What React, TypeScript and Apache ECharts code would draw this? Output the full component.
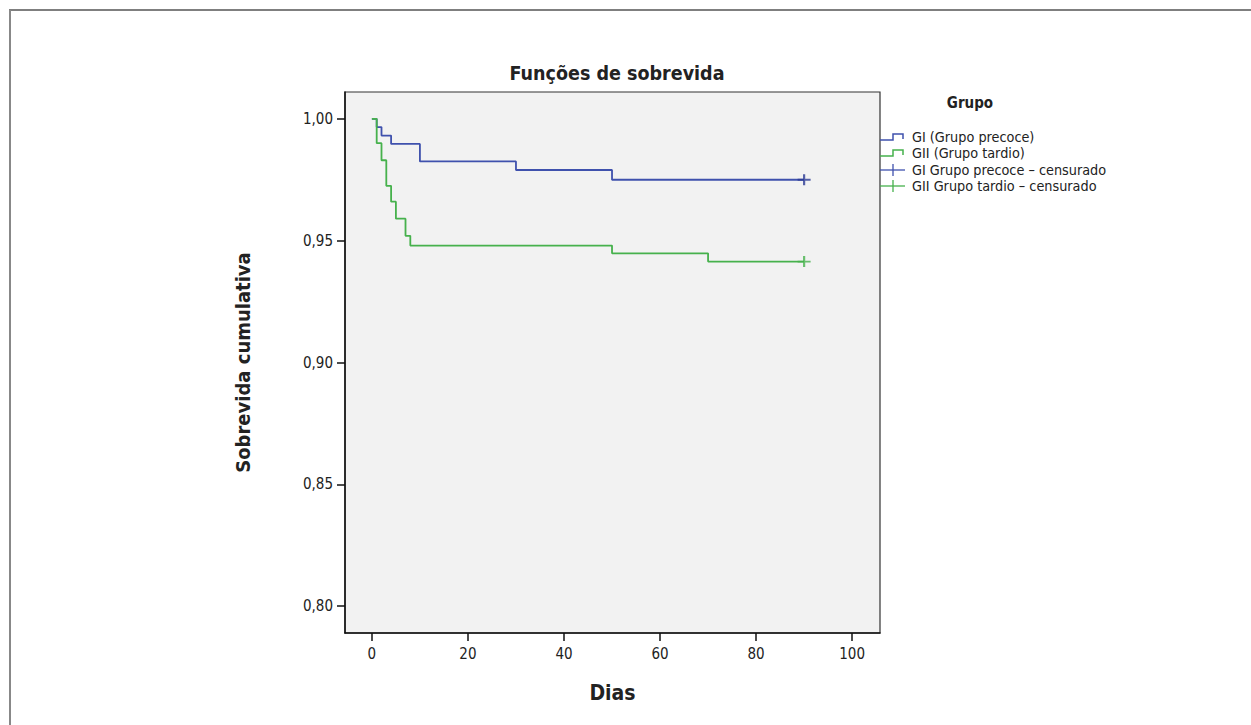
import React, { useEffect, useRef } from "react";
import * as echarts from "echarts";

const xTicks = [0, 20, 40, 60, 80, 100];
const yTicks = [0.8, 0.85, 0.9, 0.95, 1.0];

const groupIDays = [0, 1, 2, 4, 10, 30, 50, 90];
const groupISurv = [1.0, 0.9966, 0.9931, 0.9897, 0.9825, 0.979, 0.975, 0.975];

const groupIIDays = [0, 1, 2, 3, 4, 5, 7, 8, 50, 70, 90];
const groupIISurv = [1.0, 0.99, 0.983, 0.9725, 0.966, 0.959, 0.952, 0.948, 0.9448, 0.9414, 0.9414];

const censorDays = [90];
const censorI = [0.975];
const censorII = [0.9414];

const legendLabels = [
  "GI (Grupo precoce)",
  "GII (Grupo tardio)",
  "GI Grupo precoce – censurado",
  "GII Grupo tardio – censurado",
];

const BLUE = "#3f51ad";
const BLUE_DARK = "#2a3a94";
const GREEN = "#46b14c";
const FONT = "'DejaVu Sans Condensed', 'Liberation Sans', sans-serif";

export default function App() {
  const ref = useRef<HTMLDivElement>(null);
  useEffect(() => {
    if (!ref.current) return;
    const chart = echarts.init(ref.current, null, { renderer: "svg" });
    const plus = "path://M0,-5L0,5M-6,0L6,0";
    const lx = 880;
    const legendY = [137, 153, 170, 186];
    const stepIcon = (y: number, c: string) => ({
      type: "polyline",
      shape: { points: [[lx, y + 3], [lx + 13, y + 3], [lx + 13, y - 3], [lx + 23, y - 3], [lx + 23, y + 2]] },
      style: { stroke: c, lineWidth: 1.5, fill: "none" },
    });
    const censIcon = (y: number, c: string) => ({
      type: "group",
      children: [
        { type: "line", shape: { x1: lx, y1: y, x2: lx + 25, y2: y }, style: { stroke: c, lineWidth: 1.3 } },
        { type: "line", shape: { x1: lx + 13, y1: y - 6, x2: lx + 13, y2: y + 6 }, style: { stroke: c, lineWidth: 1.3 } },
      ],
    });
    chart.setOption({
      animation: false,
      title: {
        text: "Funções de sobrevida",
        left: 612,
        top: 58,
        textAlign: "center",
        textStyle: { fontFamily: FONT, fontSize: 19.5, fontWeight: "bold", color: "#222" },
      },
      grid: {
        left: 345,
        right: 1251 - 880,
        top: 92,
        bottom: 725 - 633,
        show: true,
        backgroundColor: "#f2f2f2",
        borderColor: "#333",
        borderWidth: 1.2,
      },
      xAxis: {
        type: "value",
        min: -5.6,
        max: 105.8,
        name: "Dias",
        nameLocation: "middle",
        nameGap: 49,
        nameTextStyle: { fontFamily: FONT, fontSize: 21, fontWeight: "bold", color: "#222" },
        axisLine: { show: true, onZero: false, lineStyle: { color: "#111", width: 1.5 } },
        axisTick: { show: true, length: 8, lineStyle: { color: "#111", width: 1.5 }, customValues: xTicks },
        axisLabel: {
          customValues: xTicks,
          fontFamily: FONT,
          fontSize: 15,
          color: "#222",
          margin: 13,
        },
        splitLine: { show: false },
      },
      yAxis: {
        type: "value",
        min: 0.789,
        max: 1.011,
        name: "Sobrevida cumulativa",
        nameLocation: "middle",
        nameGap: 92,
        nameTextStyle: { fontFamily: FONT, fontSize: 20, fontWeight: "bold", color: "#222" },
        axisLine: { show: true, onZero: false, lineStyle: { color: "#111", width: 1.5 } },
        axisTick: { show: true, length: 8, lineStyle: { color: "#111", width: 1.5 }, customValues: yTicks },
        axisLabel: {
          customValues: yTicks,
          fontFamily: FONT,
          fontSize: 15,
          color: "#222",
          margin: 12,
          formatter: (v: number) => v.toFixed(2).replace(".", ","),
        },
        splitLine: { show: false },
      },
      series: [
        {
          type: "line",
          name: legendLabels[0],
          step: "end",
          showSymbol: false,
          data: groupIDays.map((d, i) => [d, groupISurv[i]]),
          lineStyle: { color: BLUE, width: 1.8 },
          z: 2,
        },
        {
          type: "line",
          name: legendLabels[1],
          step: "end",
          showSymbol: false,
          data: groupIIDays.map((d, i) => [d, groupIISurv[i]]),
          lineStyle: { color: GREEN, width: 1.8 },
          z: 3,
        },
        {
          type: "scatter",
          name: legendLabels[2],
          symbol: plus,
          symbolSize: [13, 11],
          data: censorDays.map((d, i) => [d, censorI[i]]),
          itemStyle: { color: "none", borderColor: BLUE_DARK, borderWidth: 2 },
          z: 4,
        },
        {
          type: "scatter",
          name: legendLabels[3],
          symbol: plus,
          symbolSize: [13, 11],
          data: censorDays.map((d, i) => [d, censorII[i]]),
          itemStyle: { color: "none", borderColor: GREEN, borderWidth: 2 },
          z: 4,
        },
      ],
      graphic: [
        { type: "line", shape: { x1: 9, y1: 10, x2: 1251, y2: 10 }, style: { stroke: "#555", lineWidth: 1.5 } },
        { type: "line", shape: { x1: 10, y1: 10, x2: 10, y2: 725 }, style: { stroke: "#888", lineWidth: 2 } },
        {
          type: "text",
          x: 970,
          y: 103,
          style: { text: "Grupo", fontFamily: FONT, fontSize: 15, fontWeight: "bold", fill: "#222", align: "center", verticalAlign: "middle" },
        },
        stepIcon(legendY[0], BLUE),
        stepIcon(legendY[1], GREEN),
        censIcon(legendY[2], BLUE),
        censIcon(legendY[3], GREEN),
        ...legendLabels.map((t, i) => ({
          type: "text",
          x: 912,
          y: legendY[i],
          style: { text: t, fontFamily: FONT, fontSize: 14.3, fill: "#222", verticalAlign: "middle" },
        })),
      ],
    });
    return () => chart.dispose();
  }, []);
  return <div ref={ref} style={{ position: "absolute", left: 0, top: 0, width: 1251, height: 725, background: "#fff" }} />;
}
